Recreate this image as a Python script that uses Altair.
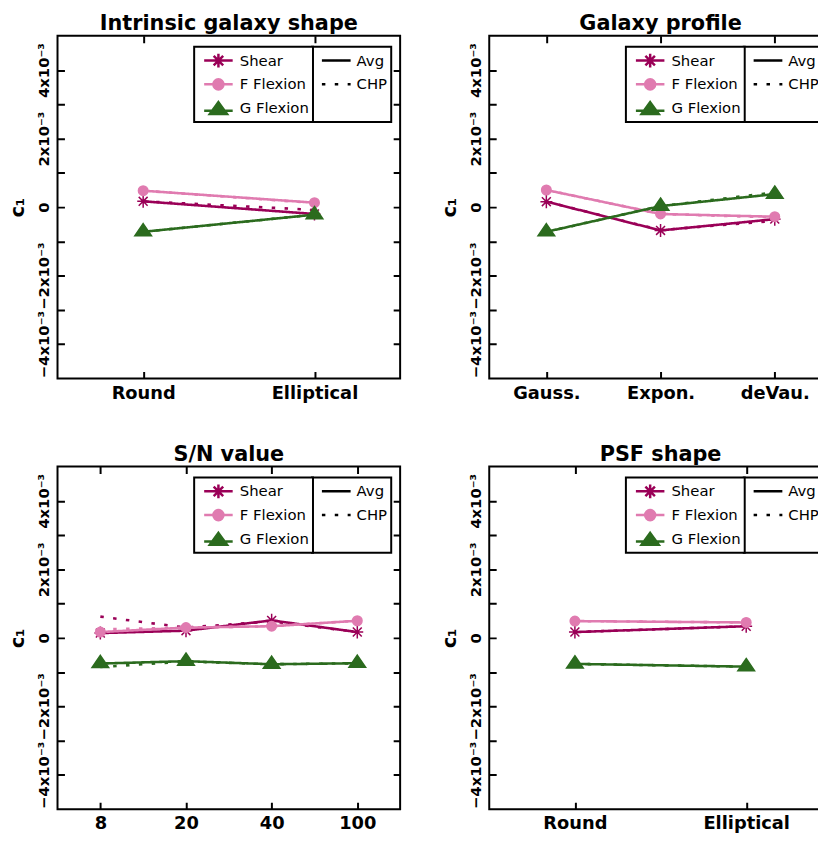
import altair as alt
import pandas as pd

FONT = "DejaVu Sans"
SERIES = ["Shear", "F Flexion", "G Flexion"]
SERIES_COLORS = ["#9A0057", "#E07BB0", "#2B6B1E"]
METHODS = ["Avg", "CHP"]

# ---- values, in units of 1e-3 ----
P1_TITLE = "Intrinsic galaxy shape"
P1_X = ["Round", "Elliptical"]
P1_SHEAR_AVG = [0.17, -0.20]
P1_SHEAR_CHP = [0.17, -0.08]
P1_FFLEX_AVG = [0.48, 0.13]
P1_FFLEX_CHP = [0.48, 0.12]
P1_GFLEX_AVG = [-0.72, -0.22]
P1_GFLEX_CHP = [-0.72, -0.22]

P2_TITLE = "Galaxy profile"
P2_X = ["Gauss.", "Expon.", "deVau."]
P2_SHEAR_AVG = [0.16, -0.68, -0.35]
P2_SHEAR_CHP = [0.16, -0.67, -0.40]
P2_FFLEX_AVG = [0.50, -0.20, -0.28]
P2_FFLEX_CHP = [0.50, -0.20, -0.30]
P2_GFLEX_AVG = [-0.72, 0.03, 0.38]
P2_GFLEX_CHP = [-0.72, 0.03, 0.43]

P3_TITLE = "S/N value"
P3_X = ["8", "20", "40", "100"]
P3_SHEAR_AVG = [0.14, 0.21, 0.51, 0.17]
P3_SHEAR_CHP = [0.62, 0.30, 0.48, 0.17]
P3_FFLEX_AVG = [0.17, 0.30, 0.34, 0.50]
P3_FFLEX_CHP = [0.25, 0.30, 0.34, 0.50]
P3_GFLEX_AVG = [-0.75, -0.68, -0.77, -0.74]
P3_GFLEX_CHP = [-0.85, -0.69, -0.77, -0.74]

P4_TITLE = "PSF shape"
P4_X = ["Round", "Elliptical"]
P4_SHEAR_AVG = [0.17, 0.34]
P4_SHEAR_CHP = [0.17, 0.34]
P4_FFLEX_AVG = [0.49, 0.45]
P4_FFLEX_CHP = [0.49, 0.45]
P4_GFLEX_AVG = [-0.76, -0.84]
P4_GFLEX_CHP = [-0.76, -0.84]

Y_TICKS = [-4, -3, -2, -1, 0, 1, 2, 3, 4]
Y_TICK_LABELS = ["\u22124x10\u207b\u00b3", "", "\u22122x10\u207b\u00b3", "", "0", "",
                 "2x10\u207b\u00b3", "", "4x10\u207b\u00b3"]
Y_TITLE = "c\u2081"

# marker shapes (unit-square paths)
DATA_SHAPES = [
    "M-1,0L1,0M0,-1.1L0,1.1M-0.75,-0.75L0.75,0.75M-0.75,0.75L0.75,-0.75",
    "M0.8,0A0.8,0.8,0,1,1,-0.8,0A0.8,0.8,0,1,1,0.8,0Z",
    "M0,-1.37L1.4,0.68L-1.4,0.68Z",
]
LEGEND_SHAPES = [
    "M-2.4,0L2.4,0M0,-1.15L0,1.15M-0.8,-0.8L0.8,0.8M-0.8,0.8L0.8,-0.8",
    "M-2.4,0L2.4,0M0.85,0A0.85,0.85,0,1,1,-0.85,0A0.85,0.85,0,1,1,0.85,0Z",
    "M-2.4,0.45L2.4,0.45M0,-1.0L1.45,1.0L-1.45,1.0Z",
]
DASH_DOMAIN = METHODS + ["\u00a0"]
DASH_RANGE = [[1, 0], [3.5, 9.5], [0, 1000]]

W = 346
H = 346


def make_df(cats, series_vals):
    rows = []
    for s, (avg, chp) in zip(SERIES, series_vals):
        for m, vals in zip(METHODS, (avg, chp)):
            for i, (c, v) in enumerate(zip(cats, vals)):
                rows.append({"cat": c, "series": s, "method": m,
                             "c1": v * 1e-3, "order": i})
    return pd.DataFrame(rows)


label_expr = ""
for t, lab in zip(Y_TICKS, Y_TICK_LABELS):
    label_expr += f"round(datum.value*1000) == {t} ? '{lab}' : "
label_expr += "''"


def panel(title, cats, series_vals):
    df = make_df(cats, series_vals)
    x = alt.X("cat:N", sort=cats, title=None,
              scale=alt.Scale(type="point", padding=0.5),
              axis=alt.Axis(labelAngle=0, domain=False, ticks=False,
                            grid=True, gridColor="black", gridWidth=2,
                            gridOpacity=1, gridDash=[7, 332, 7, 1000],
                            labelFont=FONT, labelFontSize=18,
                            labelFontWeight="bold", labelColor="black",
                            labelPadding=6))
    y = alt.Y("c1:Q", title=Y_TITLE,
              scale=alt.Scale(domain=[-5e-3, 5e-3], nice=False, zero=False),
              axis=alt.Axis(values=[t * 1e-3 for t in Y_TICKS],
                            labelExpr=label_expr, domain=False, ticks=False,
                            grid=True, gridColor="black", gridWidth=2,
                            gridOpacity=1, gridDash=[7, 332, 7, 1000],
                            labelAngle=270, labelAlign="center",
                            labelBaseline="bottom", labelPadding=6,
                            labelFont=FONT, labelFontSize=15,
                            labelFontWeight="bold", labelColor="black",
                            titleAngle=270, titleFont=FONT, titleFontSize=19,
                            titleFontWeight="bold", titleColor="black",
                            titlePadding=9))
    col_scale = alt.Scale(domain=SERIES, range=SERIES_COLORS)

    lines = alt.Chart(df).mark_line(strokeWidth=2.6).encode(
        x=x, y=y,
        color=alt.Color("series:N", scale=col_scale, legend=None),
        strokeDash=alt.StrokeDash(
            "method:N", scale=alt.Scale(domain=DASH_DOMAIN, range=DASH_RANGE),
            legend=alt.Legend(orient="none", legendX=257, legendY=11,
                              direction="vertical", title=None,
                              symbolType="stroke", symbolSize=841,
                              symbolStrokeWidth=2.5, symbolStrokeColor="black",
                              symbolOffset=4.5, labelOffset=4.5,
                              clipHeight=20, rowPadding=4, padding=4,
                              strokeColor="black", fillColor="white",
                              labelFont=FONT, labelFontSize=15,
                              labelColor="black")),
        order=alt.Order("order:Q"),
    )

    points = alt.Chart(df).transform_filter(
        "datum.method == 'Avg'"
    ).mark_point(filled=True, opacity=1, size=144, strokeWidth=1.5).encode(
        x=x, y=y,
        color=alt.Color("series:N", scale=col_scale, legend=None),
        stroke=alt.Stroke("series:N", scale=col_scale, legend=None),
        shape=alt.Shape("series:N",
                        scale=alt.Scale(domain=SERIES, range=DATA_SHAPES),
                        legend=None),
    )

    leg = alt.Legend(orient="none", legendX=138, legendY=11,
                     direction="vertical", title=None,
                     symbolSize=144, symbolStrokeWidth=2.5,
                     symbolOffset=13, labelOffset=14,
                     clipHeight=20, rowPadding=4, padding=4,
                     strokeColor="black", fillColor="white",
                     labelFont=FONT, labelFontSize=15, labelColor="black")
    legend_layer = alt.Chart(df).transform_filter("false").mark_point(
        filled=True, opacity=1, size=144, strokeWidth=2.5
    ).encode(
        x=x, y=y,
        color=alt.Color("series:N", scale=col_scale, legend=leg),
        stroke=alt.Stroke("series:N", scale=col_scale, legend=leg),
        shape=alt.Shape("series:N",
                        scale=alt.Scale(domain=SERIES, range=LEGEND_SHAPES),
                        legend=leg),
    )

    return alt.layer(lines, points, legend_layer).resolve_scale(
        color="independent", stroke="independent", shape="independent",
        strokeDash="independent",
    ).properties(
        width=W, height=H,
        title=alt.TitleParams(title, font=FONT, fontSize=21,
                              fontWeight="bold", color="black", offset=2),
    )


p1 = panel(P1_TITLE, P1_X, [(P1_SHEAR_AVG, P1_SHEAR_CHP),
                            (P1_FFLEX_AVG, P1_FFLEX_CHP),
                            (P1_GFLEX_AVG, P1_GFLEX_CHP)])
p2 = panel(P2_TITLE, P2_X, [(P2_SHEAR_AVG, P2_SHEAR_CHP),
                            (P2_FFLEX_AVG, P2_FFLEX_CHP),
                            (P2_GFLEX_AVG, P2_GFLEX_CHP)])
p3 = panel(P3_TITLE, P3_X, [(P3_SHEAR_AVG, P3_SHEAR_CHP),
                            (P3_FFLEX_AVG, P3_FFLEX_CHP),
                            (P3_GFLEX_AVG, P3_GFLEX_CHP)])
p4 = panel(P4_TITLE, P4_X, [(P4_SHEAR_AVG, P4_SHEAR_CHP),
                            (P4_FFLEX_AVG, P4_FFLEX_CHP),
                            (P4_GFLEX_AVG, P4_GFLEX_CHP)])

chart = alt.vconcat(
    alt.hconcat(p1, p2, spacing=39),
    alt.hconcat(p3, p4, spacing=39),
    spacing=40,
).properties(
    padding={"left": 0, "top": 0, "right": -15, "bottom": 0}
).configure_view(
    stroke="black", strokeWidth=2
).configure_legend(
    strokeWidth=2
)

chart.save("out.html", embed_options={"renderer": "svg", "actions": False})
